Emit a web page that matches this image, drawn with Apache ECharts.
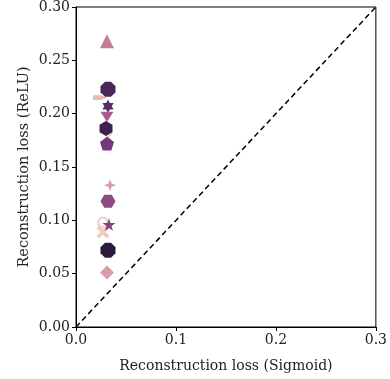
<!DOCTYPE html>
<html>
<head>
<meta charset="utf-8">
<script src="https://cdn.jsdelivr.net/npm/echarts@6/dist/echarts.min.js"></script>
<style>
  html, body { margin: 0; padding: 0; background: #fff; }
  #chart { width: 390px; height: 379px; }
</style>
</head>
<body>
<div id="chart"></div>
<script>
// reconstruction loss per model, sigmoid (x) vs relu (y)
const sigmoidLoss = [0.024, 0.032, 0.027, 0.027, 0.031, 0.032, 0.032, 0.031, 0.030, 0.031, 0.034, 0.032, 0.033, 0.032, 0.031];
const reluLoss    = [0.215, 0.178, 0.098, 0.089, 0.268, 0.223, 0.207, 0.197, 0.186, 0.172, 0.133, 0.118, 0.096, 0.072, 0.051];
const xTicks = [0, 0.1, 0.2, 0.3];
const yTicks = [0, 0.05, 0.1, 0.15, 0.2, 0.25, 0.3];
const diagonal = [[0, 0], [0.3, 0.3]];

// marker shapes / colours, one per point
const shapes = {
  octagon: 'path://M3,0 L7,0 L10,3 L10,7 L7,10 L3,10 L0,7 L0,3 Z',
  hexUp: 'path://M5,0 L9.33,2.5 L9.33,7.5 L5,10 L0.67,7.5 L0.67,2.5 Z',
  hexFlat: 'path://M0,5 L2.5,0.67 L7.5,0.67 L10,5 L7.5,9.33 L2.5,9.33 Z',
  pentagon: 'path://M5,0 L10,3.8 L8.1,9.8 L1.9,9.8 L0,3.8 Z',
  star5: 'path://M5,0 L6.2,3.6 L10,3.6 L6.9,5.9 L8.1,9.5 L5,7.3 L1.9,9.5 L3.1,5.9 L0,3.6 L3.8,3.6 Z',
  star6: 'path://M5,0 L6.44,2.5 L9.33,2.5 L7.89,5 L9.33,7.5 L6.44,7.5 L5,10 L3.56,7.5 L0.67,7.5 L2.11,5 L0.67,2.5 L3.56,2.5 Z',
  sparkle: 'path://M5,0 L6.3,3.7 L10,5 L6.3,6.3 L5,10 L3.7,6.3 L0,5 L3.7,3.7 Z',
  arrow: 'path://M0,0 L6,0 L10,3 L6,6 L0,6 Z',
  thinX: 'path://M0,1 L1,0 L5,4 L9,0 L10,1 L6,5 L10,9 L9,10 L5,6 L1,10 L0,9 L4,5 Z',
  fatX: 'path://M0,2 L2,0 L5,3 L8,0 L10,2 L7,5 L10,8 L8,10 L5,7 L2,10 L0,8 L3,5 Z',
  vTri: 'path://M0,0 L10,0 L5,8 Z',
  ring: 'path://M5,0 A5,5 0 1,1 4.99,0 Z M5,2 A3,3 0 1,0 5.01,2 Z'
};
const markers = [
  { s: shapes.arrow, size: [14, 8], c: '#e8b9b6' },
  { s: shapes.thinX, size: 9, c: '#eec9c3' },
  { s: shapes.ring, size: 12, c: '#f0d3cb' },
  { s: shapes.fatX, size: 13, c: '#efcbc2' },
  { s: 'triangle', size: 14, c: '#c47d99' },
  { s: shapes.octagon, size: 15, c: '#482859' },
  { s: shapes.star6, size: 13, c: '#5a2d69' },
  { s: shapes.vTri, size: 13, c: '#a85a8c' },
  { s: shapes.hexUp, size: 15, c: '#3c2250' },
  { s: shapes.pentagon, size: 14, c: '#74397a' },
  { s: shapes.sparkle, size: 12, c: '#d79ba9' },
  { s: shapes.hexFlat, size: 15, c: '#8b4c86' },
  { s: shapes.star5, size: 13, c: '#8a3e84' },
  { s: shapes.octagon, size: 15, c: '#2c1b3f' },
  { s: 'diamond', size: 14, c: '#d79ea9' }
];

const points = sigmoidLoss.map((x, i) => ({
  value: [x, reluLoss[i]],
  symbol: markers[i].s,
  symbolSize: markers[i].size,
  symbolKeepAspect: true,
  itemStyle: { color: markers[i].c, opacity: 1 }
}));

const font = 'DejaVu Serif, Liberation Serif, serif';
const tickLabel = { color: '#222', fontFamily: font, fontSize: 14 };

const myChart = echarts.init(document.getElementById('chart'), null, { renderer: 'canvas' });
myChart.setOption({
  animation: false,
  backgroundColor: '#fff',
  grid: { left: 76, right: 13, top: 7, bottom: 52, show: true, borderColor: '#000', borderWidth: 1 },
  xAxis: {
    type: 'value', min: 0, max: 0.3, interval: 0.1,
    name: 'Reconstruction loss (Sigmoid)', nameLocation: 'middle', nameGap: 32,
    nameMoveOverlap: false,
    nameTextStyle: { color: '#222', fontFamily: font, fontSize: 14 },
    axisLine: { show: true, onZero: false, lineStyle: { color: '#000', width: 1 } },
    axisTick: { show: true, inside: false, length: 4, lineStyle: { color: '#000' } },
    axisLabel: Object.assign({ margin: 6, formatter: v => xTicks.includes(+v.toFixed(1)) ? v.toFixed(1) : '' }, tickLabel),
    splitLine: { show: false }
  },
  yAxis: {
    type: 'value', min: 0, max: 0.3, interval: 0.05,
    name: 'Reconstruction loss (ReLU)', nameLocation: 'middle', nameGap: 44,
    nameMoveOverlap: false,
    nameTextStyle: { color: '#222', fontFamily: font, fontSize: 14.5 },
    axisLine: { show: true, onZero: false, lineStyle: { color: '#000', width: 1 } },
    axisTick: { show: true, inside: false, length: 4, lineStyle: { color: '#000' } },
    axisLabel: Object.assign({ margin: 6, formatter: v => yTicks.includes(+v.toFixed(2)) ? v.toFixed(2) : '' }, tickLabel),
    splitLine: { show: false }
  },
  series: [
    {
      type: 'line',
      data: diagonal,
      symbol: 'none',
      lineStyle: { color: '#000', width: 1.5, type: [5.5, 3.5] },
      z: 1
    },
    {
      type: 'scatter',
      data: points,
      z: 3
    }
  ]
});
</script>
</body>
</html>
